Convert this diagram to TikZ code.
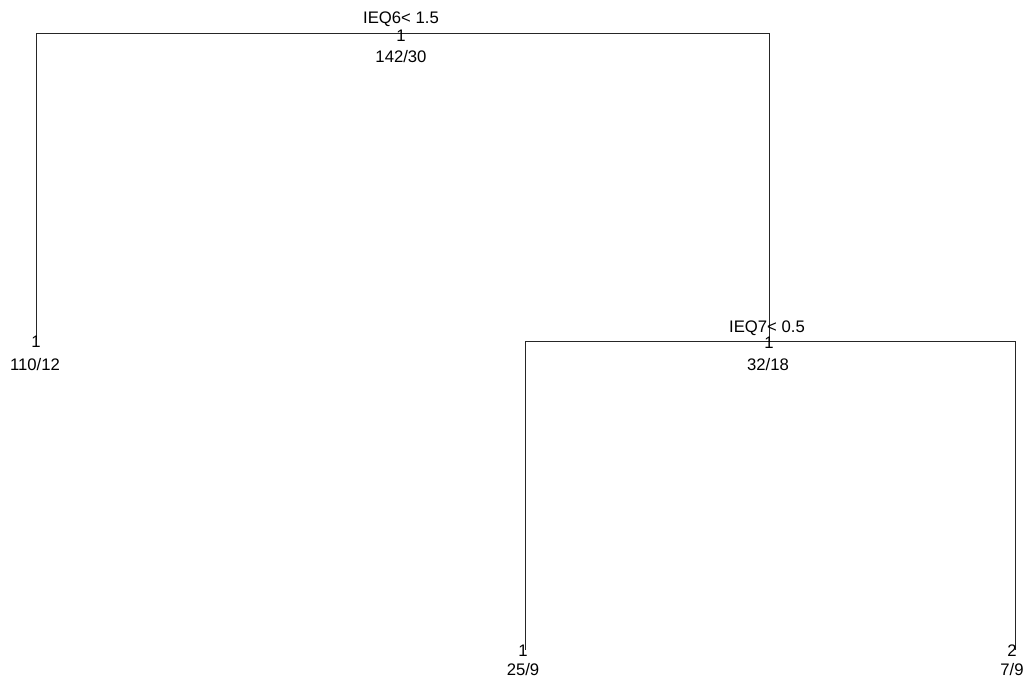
\documentclass[tikz,border=0pt]{standalone}
\usepackage{fontspec}
\setmainfont{Liberation Sans}
\usetikzlibrary{positioning}

\begin{document}
\begin{tikzpicture}[
  x=1pt,y=-1pt,
  every node/.style={inner sep=0pt,font=\fontsize{16.7}{20}\selectfont},
  branch/.style={line width=1pt,draw=black!85}
]
  \useasboundingbox (0,0) rectangle (1028,675);
  \clip (0,0) rectangle (1028,675);

  % split points and leaves
  \coordinate (root) at (401,33);
  \coordinate (inner) at (769,341);
  \coordinate (leafA) at (36,340);
  \coordinate (leafB) at (525,650);
  \coordinate (leafC) at (1015,650);

  \draw[branch] (root) -| (leafA);
  \draw[branch] (root) -| (inner);
  \draw[branch] (inner) -| (leafB);
  \draw[branch] (inner) -| (leafC);

  \node (splitA) at (401,19) {IEQ6< 1.5};
  \node (classA) at (401,36) {1};
  \node (countA) at (401,57) {142/30};

  \node (splitB) at (767,328) {IEQ7< 0.5};
  \node (classB) at (769,343) {1};
  \node (countB) at (768,365) {32/18};

  \node (classL1) at (36,342) {1};
  \node (countL1) at (35,365) {110/12};

  \node (classL2) at (523,651) {1};
  \node (countL2) at (523,670) {25/9};

  \node (classL3) at (1012,651) {2};
  \node (countL3) at (1012,670) {7/9};
\end{tikzpicture}
\end{document}
